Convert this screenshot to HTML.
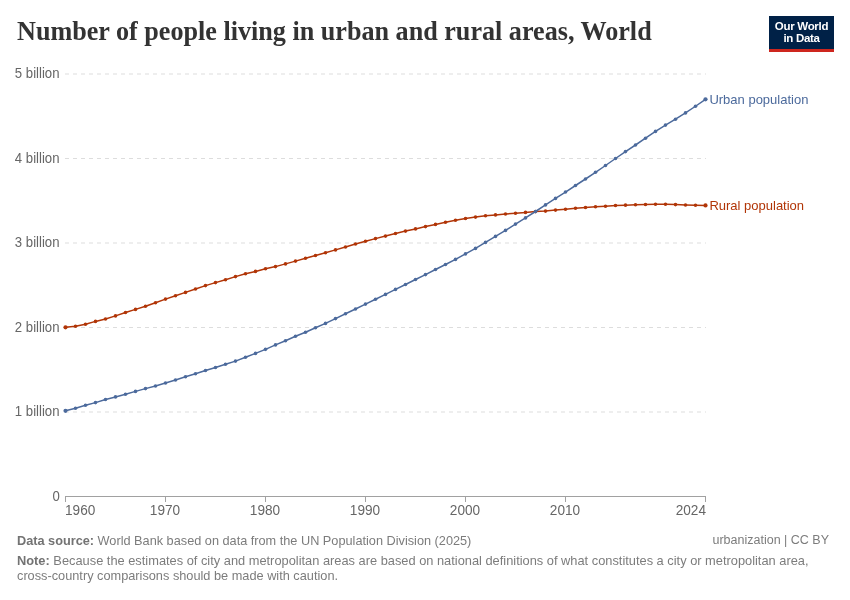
<!DOCTYPE html>
<html><head><meta charset="utf-8">
<style>
html,body{margin:0;padding:0;background:#fff;width:850px;height:600px;overflow:hidden}
body{position:relative;font-family:"Liberation Sans",sans-serif;will-change:transform}
.title{position:absolute;left:17px;top:15px;font-family:"Liberation Serif",serif;font-weight:bold;font-size:28px;color:#333;white-space:nowrap;line-height:32px;transform-origin:0 0;transform:scaleX(0.9335)}
.logo{position:absolute;left:769px;top:16px;width:65px;height:36px;background:#002147;box-sizing:border-box;border-bottom:3px solid #ce261e;color:#fff;font-size:11.5px;line-height:12px;text-align:center;padding-top:4px;letter-spacing:-0.3px;font-weight:bold}
.yl{position:absolute;right:790.6px;font-size:14px;line-height:16px;color:#666;white-space:nowrap;text-align:right;transform:scaleX(0.94);transform-origin:100% 50%}
.xl{position:absolute;top:502px;font-size:14px;line-height:16px;color:#666;white-space:nowrap}
.lab{position:absolute;left:709.4px;font-size:13px;line-height:16px;white-space:nowrap}
.foot{position:absolute;left:17px;font-size:12.5px;line-height:15px;color:#7c7c7c;white-space:nowrap}
.foot b{color:#737373}
</style></head><body>
<div class="title" id="title">Number of people living in urban and rural areas, World</div>
<div class="logo">Our World<br>in Data</div>
<svg width="850" height="600" viewBox="0 0 850 600" style="position:absolute;left:0;top:0">
<g stroke="#dddddd" stroke-width="1" stroke-dasharray="4,4"><line x1="65" x2="706" y1="74.0" y2="74.0" /><line x1="65" x2="706" y1="158.5" y2="158.5" /><line x1="65" x2="706" y1="243.0" y2="243.0" /><line x1="65" x2="706" y1="327.5" y2="327.5" /><line x1="65" x2="706" y1="412.0" y2="412.0" /></g>
<g stroke="#a1a1a1" stroke-width="1">
<line x1="65" x2="706" y1="496.5" y2="496.5"/><line x1="65.5" x2="65.5" y1="496" y2="502"/><line x1="165.5" x2="165.5" y1="496" y2="502"/><line x1="265.5" x2="265.5" y1="496" y2="502"/><line x1="365.5" x2="365.5" y1="496" y2="502"/><line x1="465.5" x2="465.5" y1="496" y2="502"/><line x1="565.5" x2="565.5" y1="496" y2="502"/><line x1="705.5" x2="705.5" y1="496" y2="502"/></g>
<polyline fill="none" stroke="#b13507" stroke-width="1.5" points="65.5,327.30 75.5,326.20 85.5,324.30 95.5,321.40 105.5,319.00 115.5,315.90 125.5,312.50 135.5,309.40 145.5,306.20 155.5,302.70 165.5,299.10 175.5,295.70 185.5,292.40 195.5,289.00 205.5,285.60 215.5,282.60 225.5,279.70 235.5,276.60 245.5,273.80 255.5,271.40 265.5,268.80 275.5,266.60 285.5,263.90 295.5,261.10 305.5,258.20 315.5,255.50 325.5,252.80 335.5,249.90 345.5,247.00 355.5,244.00 365.5,241.30 375.5,238.60 385.5,236.10 395.5,233.50 405.5,231.10 415.5,228.90 425.5,226.60 435.5,224.40 445.5,222.20 455.5,220.30 465.5,218.50 475.5,217.10 485.5,215.70 495.5,214.90 505.5,214.00 515.5,213.20 525.5,212.40 535.5,211.60 545.5,211.10 555.5,210.10 565.5,209.20 575.5,208.20 585.5,207.50 595.5,206.80 605.5,206.20 615.5,205.55 625.5,205.15 635.5,204.70 645.5,204.50 655.5,204.30 665.5,204.30 675.5,204.60 685.5,205.00 695.5,205.30 705.5,205.40"/>
<g fill="#b13507"><circle cx="65.5" cy="327.30" r="2.1"/><circle cx="75.5" cy="326.20" r="1.8"/><circle cx="85.5" cy="324.30" r="1.8"/><circle cx="95.5" cy="321.40" r="1.8"/><circle cx="105.5" cy="319.00" r="1.8"/><circle cx="115.5" cy="315.90" r="1.8"/><circle cx="125.5" cy="312.50" r="1.8"/><circle cx="135.5" cy="309.40" r="1.8"/><circle cx="145.5" cy="306.20" r="1.8"/><circle cx="155.5" cy="302.70" r="1.8"/><circle cx="165.5" cy="299.10" r="1.8"/><circle cx="175.5" cy="295.70" r="1.8"/><circle cx="185.5" cy="292.40" r="1.8"/><circle cx="195.5" cy="289.00" r="1.8"/><circle cx="205.5" cy="285.60" r="1.8"/><circle cx="215.5" cy="282.60" r="1.8"/><circle cx="225.5" cy="279.70" r="1.8"/><circle cx="235.5" cy="276.60" r="1.8"/><circle cx="245.5" cy="273.80" r="1.8"/><circle cx="255.5" cy="271.40" r="1.8"/><circle cx="265.5" cy="268.80" r="1.8"/><circle cx="275.5" cy="266.60" r="1.8"/><circle cx="285.5" cy="263.90" r="1.8"/><circle cx="295.5" cy="261.10" r="1.8"/><circle cx="305.5" cy="258.20" r="1.8"/><circle cx="315.5" cy="255.50" r="1.8"/><circle cx="325.5" cy="252.80" r="1.8"/><circle cx="335.5" cy="249.90" r="1.8"/><circle cx="345.5" cy="247.00" r="1.8"/><circle cx="355.5" cy="244.00" r="1.8"/><circle cx="365.5" cy="241.30" r="1.8"/><circle cx="375.5" cy="238.60" r="1.8"/><circle cx="385.5" cy="236.10" r="1.8"/><circle cx="395.5" cy="233.50" r="1.8"/><circle cx="405.5" cy="231.10" r="1.8"/><circle cx="415.5" cy="228.90" r="1.8"/><circle cx="425.5" cy="226.60" r="1.8"/><circle cx="435.5" cy="224.40" r="1.8"/><circle cx="445.5" cy="222.20" r="1.8"/><circle cx="455.5" cy="220.30" r="1.8"/><circle cx="465.5" cy="218.50" r="1.8"/><circle cx="475.5" cy="217.10" r="1.8"/><circle cx="485.5" cy="215.70" r="1.8"/><circle cx="495.5" cy="214.90" r="1.8"/><circle cx="505.5" cy="214.00" r="1.8"/><circle cx="515.5" cy="213.20" r="1.8"/><circle cx="525.5" cy="212.40" r="1.8"/><circle cx="535.5" cy="211.60" r="1.8"/><circle cx="545.5" cy="211.10" r="1.8"/><circle cx="555.5" cy="210.10" r="1.8"/><circle cx="565.5" cy="209.20" r="1.8"/><circle cx="575.5" cy="208.20" r="1.8"/><circle cx="585.5" cy="207.50" r="1.8"/><circle cx="595.5" cy="206.80" r="1.8"/><circle cx="605.5" cy="206.20" r="1.8"/><circle cx="615.5" cy="205.55" r="1.8"/><circle cx="625.5" cy="205.15" r="1.8"/><circle cx="635.5" cy="204.70" r="1.8"/><circle cx="645.5" cy="204.50" r="1.8"/><circle cx="655.5" cy="204.30" r="1.8"/><circle cx="665.5" cy="204.30" r="1.8"/><circle cx="675.5" cy="204.60" r="1.8"/><circle cx="685.5" cy="205.00" r="1.8"/><circle cx="695.5" cy="205.30" r="1.8"/><circle cx="705.5" cy="205.40" r="2.1"/></g>
<polyline fill="none" stroke="#4c6a9c" stroke-width="1.5" points="65.5,410.80 75.5,408.20 85.5,405.30 95.5,402.60 105.5,399.50 115.5,396.90 125.5,394.20 135.5,391.40 145.5,388.60 155.5,386.00 165.5,383.00 175.5,380.00 185.5,376.80 195.5,373.70 205.5,370.50 215.5,367.50 225.5,364.30 235.5,361.10 245.5,357.30 255.5,353.40 265.5,349.35 275.5,344.90 285.5,340.70 295.5,336.30 305.5,332.20 315.5,327.80 325.5,323.40 335.5,318.60 345.5,313.80 355.5,309.00 365.5,304.10 375.5,299.30 385.5,294.40 395.5,289.40 405.5,284.50 415.5,279.50 425.5,274.60 435.5,269.50 445.5,264.50 455.5,259.40 465.5,253.85 475.5,248.40 485.5,242.40 495.5,236.40 505.5,230.40 515.5,224.10 525.5,217.90 535.5,211.50 545.5,204.90 555.5,198.40 565.5,192.05 575.5,185.50 585.5,179.00 595.5,172.30 605.5,165.50 615.5,158.50 625.5,151.60 635.5,145.00 645.5,138.20 655.5,131.40 665.5,125.10 675.5,119.20 685.5,112.90 695.5,106.25 705.5,99.30"/>
<g fill="#4c6a9c"><circle cx="65.5" cy="410.80" r="2.1"/><circle cx="75.5" cy="408.20" r="1.8"/><circle cx="85.5" cy="405.30" r="1.8"/><circle cx="95.5" cy="402.60" r="1.8"/><circle cx="105.5" cy="399.50" r="1.8"/><circle cx="115.5" cy="396.90" r="1.8"/><circle cx="125.5" cy="394.20" r="1.8"/><circle cx="135.5" cy="391.40" r="1.8"/><circle cx="145.5" cy="388.60" r="1.8"/><circle cx="155.5" cy="386.00" r="1.8"/><circle cx="165.5" cy="383.00" r="1.8"/><circle cx="175.5" cy="380.00" r="1.8"/><circle cx="185.5" cy="376.80" r="1.8"/><circle cx="195.5" cy="373.70" r="1.8"/><circle cx="205.5" cy="370.50" r="1.8"/><circle cx="215.5" cy="367.50" r="1.8"/><circle cx="225.5" cy="364.30" r="1.8"/><circle cx="235.5" cy="361.10" r="1.8"/><circle cx="245.5" cy="357.30" r="1.8"/><circle cx="255.5" cy="353.40" r="1.8"/><circle cx="265.5" cy="349.35" r="1.8"/><circle cx="275.5" cy="344.90" r="1.8"/><circle cx="285.5" cy="340.70" r="1.8"/><circle cx="295.5" cy="336.30" r="1.8"/><circle cx="305.5" cy="332.20" r="1.8"/><circle cx="315.5" cy="327.80" r="1.8"/><circle cx="325.5" cy="323.40" r="1.8"/><circle cx="335.5" cy="318.60" r="1.8"/><circle cx="345.5" cy="313.80" r="1.8"/><circle cx="355.5" cy="309.00" r="1.8"/><circle cx="365.5" cy="304.10" r="1.8"/><circle cx="375.5" cy="299.30" r="1.8"/><circle cx="385.5" cy="294.40" r="1.8"/><circle cx="395.5" cy="289.40" r="1.8"/><circle cx="405.5" cy="284.50" r="1.8"/><circle cx="415.5" cy="279.50" r="1.8"/><circle cx="425.5" cy="274.60" r="1.8"/><circle cx="435.5" cy="269.50" r="1.8"/><circle cx="445.5" cy="264.50" r="1.8"/><circle cx="455.5" cy="259.40" r="1.8"/><circle cx="465.5" cy="253.85" r="1.8"/><circle cx="475.5" cy="248.40" r="1.8"/><circle cx="485.5" cy="242.40" r="1.8"/><circle cx="495.5" cy="236.40" r="1.8"/><circle cx="505.5" cy="230.40" r="1.8"/><circle cx="515.5" cy="224.10" r="1.8"/><circle cx="525.5" cy="217.90" r="1.8"/><circle cx="535.5" cy="211.50" r="1.8"/><circle cx="545.5" cy="204.90" r="1.8"/><circle cx="555.5" cy="198.40" r="1.8"/><circle cx="565.5" cy="192.05" r="1.8"/><circle cx="575.5" cy="185.50" r="1.8"/><circle cx="585.5" cy="179.00" r="1.8"/><circle cx="595.5" cy="172.30" r="1.8"/><circle cx="605.5" cy="165.50" r="1.8"/><circle cx="615.5" cy="158.50" r="1.8"/><circle cx="625.5" cy="151.60" r="1.8"/><circle cx="635.5" cy="145.00" r="1.8"/><circle cx="645.5" cy="138.20" r="1.8"/><circle cx="655.5" cy="131.40" r="1.8"/><circle cx="665.5" cy="125.10" r="1.8"/><circle cx="675.5" cy="119.20" r="1.8"/><circle cx="685.5" cy="112.90" r="1.8"/><circle cx="695.5" cy="106.25" r="1.8"/><circle cx="705.5" cy="99.30" r="2.1"/></g>
</svg>
<div class="yl" style="top:65.3px">5 billion</div><div class="yl" style="top:149.8px">4 billion</div><div class="yl" style="top:234.3px">3 billion</div><div class="yl" style="top:318.8px">2 billion</div><div class="yl" style="top:403.3px">1 billion</div><div class="yl" style="top:487.8px">0</div>
<div class="xl" style="left:64.9px;transform:scaleX(0.973);transform-origin:0 0">1960</div><div class="xl" style="left:125.1px;width:80px;text-align:center;transform:scaleX(0.973)">1970</div><div class="xl" style="left:225.1px;width:80px;text-align:center;transform:scaleX(0.973)">1980</div><div class="xl" style="left:325.1px;width:80px;text-align:center;transform:scaleX(0.973)">1990</div><div class="xl" style="left:425.1px;width:80px;text-align:center;transform:scaleX(0.973)">2000</div><div class="xl" style="left:525.1px;width:80px;text-align:center;transform:scaleX(0.973)">2010</div><div class="xl" style="left:625.5px;width:80px;text-align:right;transform:scaleX(0.973);transform-origin:100% 0">2024</div>
<div class="lab" style="top:92px;color:#4c6a9c">Urban population</div>
<div class="lab" style="top:198px;color:#b13507">Rural population</div>
<div class="foot" id="ds" style="top:533px;font-size:12.72px"><b>Data source:</b> World Bank based on data from the UN Population Division (2025)</div>
<div class="foot" id="cc" style="top:533px;left:auto;right:21px">urbanization | CC BY</div>
<div class="foot" id="n1" style="top:553px;font-size:12.84px"><b>Note:</b> Because the estimates of city and metropolitan areas are based on national definitions of what constitutes a city or metropolitan area,</div>
<div class="foot" id="n2" style="top:568px;font-size:12.76px">cross-country comparisons should be made with caution.</div>
</body></html>
